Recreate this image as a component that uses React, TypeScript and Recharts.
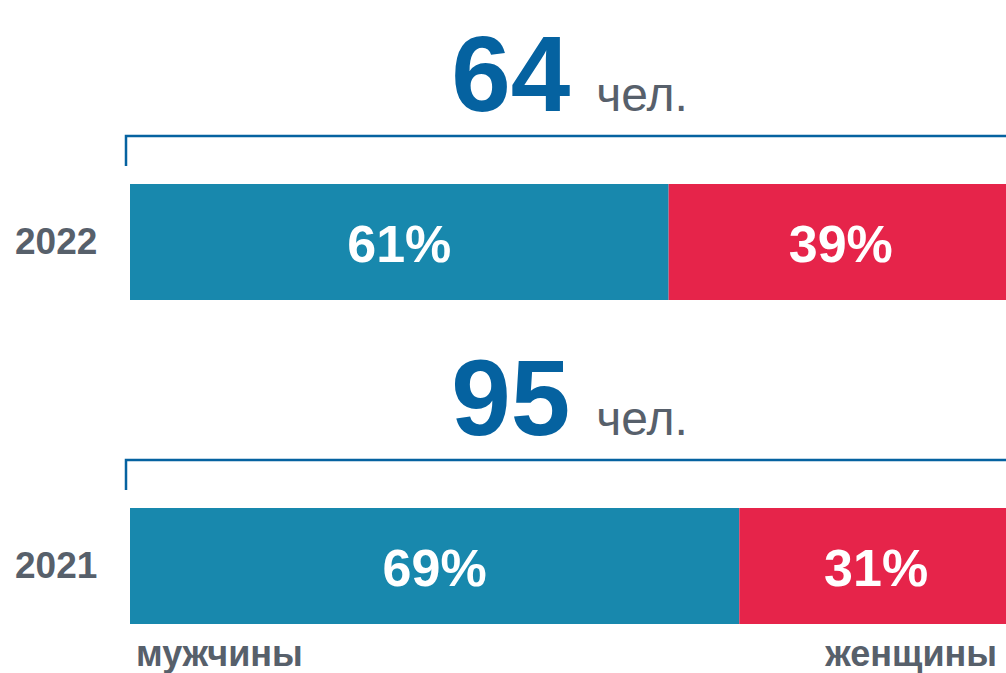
import { BarChart, Bar, XAxis, YAxis, LabelList } from "recharts";

const years = ["2022", "2021"];
const totals = [64, 95];
const menPct = [61, 69];
const womenPct = [39, 31];
const seriesNames = ["мужчины", "женщины"];
const unitLabel = "чел.";

const TEAL = "#1888ad";
const RED = "#e6244a";
const BLUE = "#0562a0";
const GREY = "#57606b";
const FONT = "Arial, 'Liberation Sans', sans-serif";

const data = years.map((year, i) => ({
  year,
  total: totals[i],
  men: menPct[i],
  women: womenPct[i],
}));

// подпись года слева от полосы
const YearTick = ({ y, payload }: any) => (
  <text
    x={15}
    y={y + 12}
    fontFamily={FONT}
    fontSize={37}
    fontWeight={700}
    fill={GREY}
  >
    {payload.value}
  </text>
);

// процент внутри сегмента
const PctLabel = ({ x, y, width, height, value }: any) => (
  <text
    x={x + width / 2}
    y={y + height / 2 + 20}
    textAnchor="middle"
    fontFamily={FONT}
    fontSize={52}
    fontWeight={700}
    fill="#ffffff"
  >
    {value}%
  </text>
);

// общая численность и скобка над полосой
const TotalLabel = ({ x, y, width, value, index }: any) => {
  const right = x + (width * 100) / value;
  const cx = (x + right) / 2;
  return (
    <g>
      <path
        d={`M${x - 4},${y - 18} L${x - 4},${y - 48} L${right},${y - 48}`}
        stroke={BLUE}
        strokeWidth={2.5}
        fill="none"
      />
      <text x={cx - 2} y={y - 73} textAnchor="middle" fontFamily={FONT}>
        <tspan fontSize={107} fontWeight={700} fill={BLUE}>
          {totals[index]}
        </tspan>
        <tspan dx={26} fontSize={48} fill={GREY}>
          {unitLabel}
        </tspan>
      </text>
    </g>
  );
};

export default function App() {
  return (
    <div
      style={{
        position: "absolute",
        left: 0,
        top: 0,
        width: 1006,
        height: 673,
        overflow: "hidden",
        background: "#ffffff",
      }}
    >
      <BarChart
        width={1013}
        height={728}
        data={data}
        layout="vertical"
        margin={{ top: 80, right: 0, left: 0, bottom: 0 }}
      >
        <XAxis type="number" domain={[0, 100]} hide />
        <YAxis
          type="category"
          dataKey="year"
          width={130}
          axisLine={false}
          tickLine={false}
          tick={<YearTick />}
        />
        <Bar
          dataKey="men"
          stackId="a"
          fill={TEAL}
          barSize={116}
          isAnimationActive={false}
        >
          <LabelList dataKey="men" content={<PctLabel />} />
          <LabelList dataKey="men" content={<TotalLabel />} />
        </Bar>
        <Bar
          dataKey="women"
          stackId="a"
          fill={RED}
          barSize={116}
          isAnimationActive={false}
        >
          <LabelList dataKey="women" content={<PctLabel />} />
        </Bar>
      </BarChart>
      <svg
        width={1006}
        height={673}
        style={{ position: "absolute", left: 0, top: 0, pointerEvents: "none" }}
      >
        <text
          x={136}
          y={666}
          fontFamily={FONT}
          fontSize={36}
          fontWeight={700}
          fill={GREY}
        >
          {seriesNames[0]}
        </text>
        <text
          x={997}
          y={666}
          textAnchor="end"
          fontFamily={FONT}
          fontSize={36}
          fontWeight={700}
          fill={GREY}
        >
          {seriesNames[1]}
        </text>
      </svg>
    </div>
  );
}
